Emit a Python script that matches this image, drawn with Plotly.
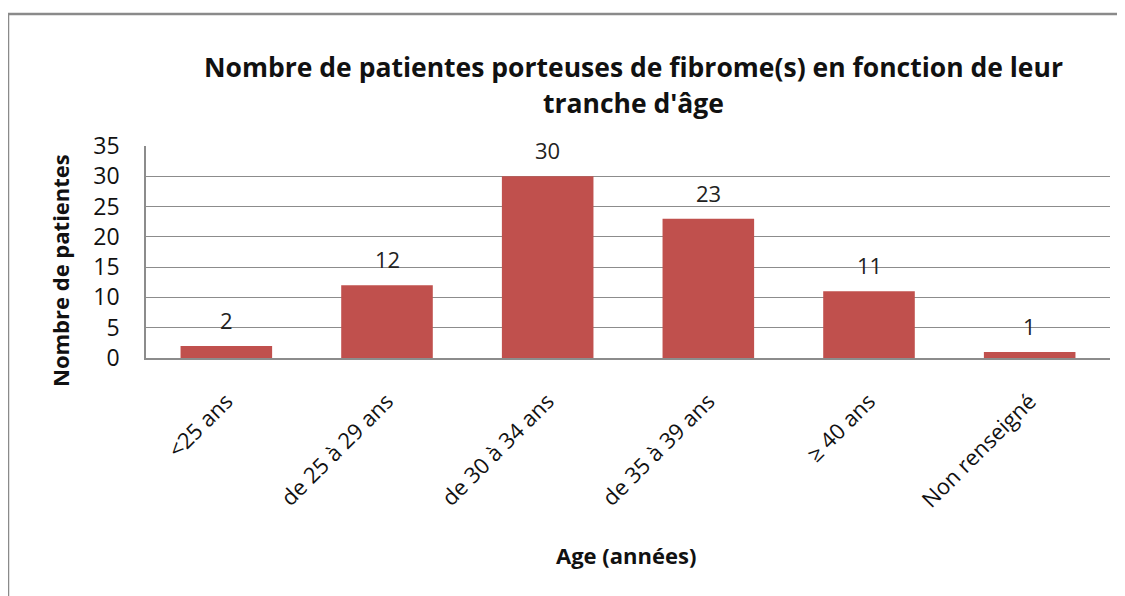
import plotly.graph_objects as go

categories = ["<25 ans", "de 25 à 29 ans", "de 30 à 34 ans", "de 35 à 39 ans", "≥ 40 ans", "Non renseigné"]
values = [2, 12, 30, 23, 11, 1]
y_ticks = [0, 5, 10, 15, 20, 25, 30, 35]

FONT = "'Open Sans', 'Noto Sans', sans-serif"
W, H = 1125, 596
OFF = 8  # page body margin
# plot area in screen pixels: x 146..1110, y 146..358
L, T = 146 - OFF, 146 - OFF
R = W - (1110 - OFF)
B = H - (358 - OFF)
pw, ph = W - L - R, H - T - B

def px(x):
    return (x - OFF - L) / pw

def py(y):
    return (H - B - (y - OFF)) / ph

fig = go.Figure()
fig.add_trace(go.Bar(
    x=categories, y=values,
    marker=dict(color="#C0504D", line=dict(width=0)),
    width=0.57,
    cliponaxis=False,
))
for c, v in zip(categories, values):
    fig.add_annotation(
        x=c, y=v, xref="x", yref="y", text=str(v), showarrow=False,
        yanchor="middle", yshift=26,
        font=dict(family=FONT, size=22, color="#222222"),
    )

fig.update_layout(
    width=W, height=H,
    margin=dict(l=L, r=R, t=T, b=B),
    paper_bgcolor="white", plot_bgcolor="white",
    showlegend=False,
    font=dict(family=FONT, color="#111111"),
    xaxis=dict(
        tickangle=-45,
        tickfont=dict(family=FONT, size=22, color="#111111"),
        showline=True, linecolor="#8c8c8c", linewidth=1.5,
        showgrid=False, ticks="", ticklabelstandoff=20,
    ),
    yaxis=dict(
        range=[0, 35], tickvals=y_ticks,
        tickfont=dict(family=FONT, size=23, color="#111111"),
        showline=True, linecolor="#8c8c8c", linewidth=1.5,
        gridcolor="#8c8c8c", gridwidth=1,
        ticks="", ticklabelstandoff=20,
        zeroline=False,
    ),
)

fig.add_annotation(
    text="<b>Nombre de patientes porteuses de fibrome(s) en fonction de leur</b>",
    x=px(633), y=py(67), xref="paper", yref="paper",
    showarrow=False, font=dict(family=FONT, size=26.5, color="#111111"),
    xanchor="center", yanchor="middle",
)
fig.add_annotation(
    text="<b>tranche d'âge</b>",
    x=px(633), y=py(103), xref="paper", yref="paper",
    showarrow=False, font=dict(family=FONT, size=26.5, color="#111111"),
    xanchor="center", yanchor="middle",
)
fig.add_annotation(
    text="<b>Nombre de patientes</b>",
    x=px(60), y=py(271), xref="paper", yref="paper",
    showarrow=False, textangle=-90,
    font=dict(family=FONT, size=22, color="#111111"),
    xanchor="center", yanchor="middle",
)
fig.add_annotation(
    text="<b>Age (années)</b>",
    x=px(626), y=py(555), xref="paper", yref="paper",
    showarrow=False,
    font=dict(family=FONT, size=22, color="#111111"),
    xanchor="center", yanchor="middle",
)
fig.add_shape(
    type="rect", xref="paper", yref="paper",
    x0=px(8), x1=px(1145), y0=py(14), y1=py(620),
    line=dict(color="#8a8a8a", width=2.5), fillcolor="rgba(0,0,0,0)",
    layer="above",
)

fig.write_html("out.html")
